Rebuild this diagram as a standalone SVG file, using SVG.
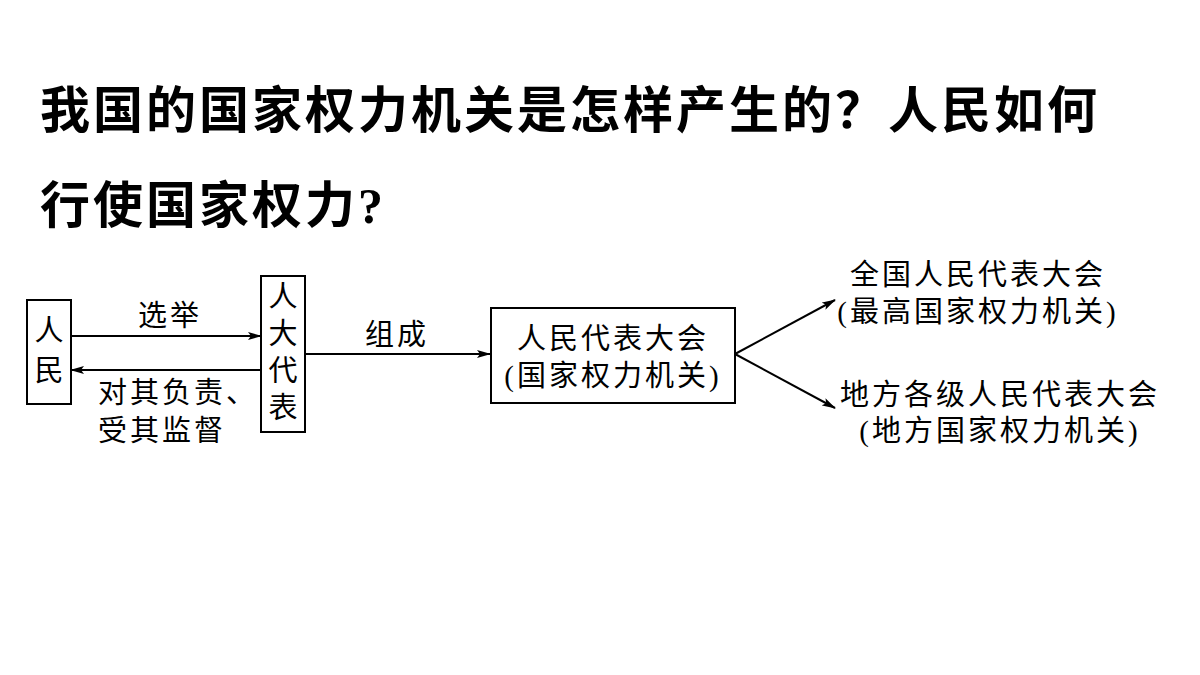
<svg xmlns="http://www.w3.org/2000/svg" width="1200" height="675" viewBox="0 0 1200 675">
<defs>
<style>
.t{font-family:"Liberation Serif","Noto Sans CJK SC",serif;font-size:29px;letter-spacing:3px;fill:#000}
.c{font-family:"Liberation Serif","Noto Sans CJK SC",serif;font-size:29px;fill:#000}
.h{font-family:"Liberation Serif","Noto Sans CJK SC",sans-serif;font-size:50px;letter-spacing:3px;font-weight:bold;fill:#000}
.b{fill:#fff;stroke:#000;stroke-width:2}
.l{stroke:#000;stroke-width:2;fill:none;marker-end:url(#a)}
</style>
<marker id="a" markerWidth="14" markerHeight="10" refX="13" refY="5" orient="auto" markerUnits="userSpaceOnUse"><path d="M0,1 L14,5 L0,9 L3,5 Z" fill="#000"/></marker>
</defs>
<rect width="1200" height="675" fill="#fff"/>
<text class="h" x="40" y="128">我国的国家权力机关是怎样产生的？人民如何</text>
<text class="h" x="40" y="223">行使国家权力?</text>
<g id="connectors">
<line class="l" x1="71" y1="336" x2="261" y2="336"/>
<line class="l" x1="261" y1="370" x2="71" y2="370"/>
<line class="l" x1="305" y1="354" x2="490" y2="354"/>
<line class="l" x1="735" y1="354" x2="835" y2="300"/>
<line class="l" x1="735" y1="354" x2="835" y2="408"/>
<text class="t" x="170" y="326" text-anchor="middle">选举</text>
<text class="t" x="397" y="345" text-anchor="middle">组成</text>
<text class="t" x="98" y="403">对其负责、</text>
<text class="t" x="98" y="441">受其监督</text>
</g>
<g id="renmin"><rect class="b" x="27" y="300" width="44" height="104"/>
<text class="c" x="49" y="341" text-anchor="middle">人</text><text class="c" x="49" y="381" text-anchor="middle">民</text></g>
<g id="rendadaibiao"><rect class="b" x="261" y="276" width="44" height="156"/>
<text class="c" x="283" y="307" text-anchor="middle">人</text><text class="c" x="283" y="344" text-anchor="middle">大</text><text class="c" x="283" y="381" text-anchor="middle">代</text><text class="c" x="283" y="418" text-anchor="middle">表</text></g>
<g id="renda"><rect class="b" x="491" y="308" width="244" height="95"/>
<text class="t" x="613" y="349" text-anchor="middle">人民代表大会</text><text class="t" x="613" y="386" text-anchor="middle">(国家权力机关)</text></g>
<g id="quanguo"><text class="t" x="978" y="285" text-anchor="middle">全国人民代表大会</text><text class="t" x="978" y="322" text-anchor="middle">(最高国家权力机关)</text></g>
<g id="difang"><text class="t" x="1000" y="405" text-anchor="middle">地方各级人民代表大会</text><text class="t" x="1000" y="441" text-anchor="middle">(地方国家权力机关)</text></g>
</svg>
